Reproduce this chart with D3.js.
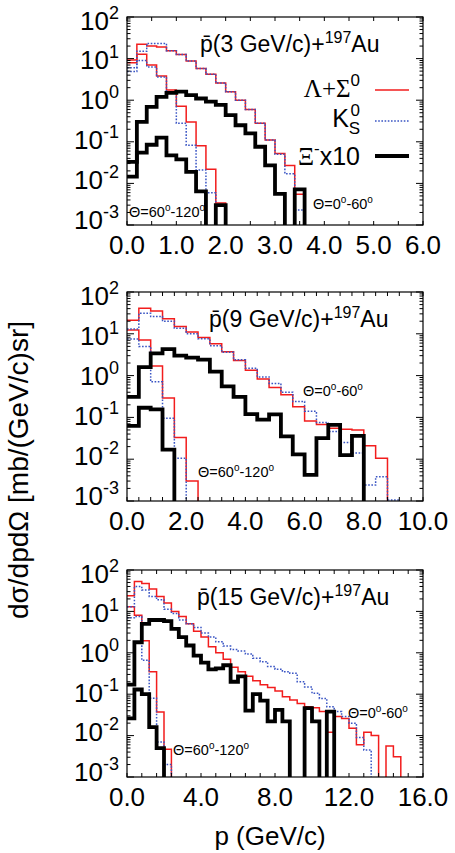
<!DOCTYPE html>
<html>
<head>
<meta charset="utf-8">
<script src="https://cdn.jsdelivr.net/npm/d3@7"></script>
<style>
  body { margin: 0; background: #fff; }
  svg { display: block; }
</style>
</head>
<body>
<script>
// Hyperon and kaon momentum spectra in p̄ + 197Au at 3, 9 and 15 GeV/c.
// Histograms start at p = 0; a value of 0 marks an empty bin.

const beamMomenta = ["3", "9", "15"];
const xMaxima = [6, 10, 16];
const binWidths = [0.2, 0.4, 0.4];
const xLabelSteps = [1, 2, 4];
const xMinorSteps = [0.5, 0.4, 0.8];
const yDomain = [1e-3, 1e2];

// --- 3 GeV/c ---
const lambdaFwd3 = [9.2, 22, 20, 19, 15.5, 12.6, 8.7, 5.8, 4.2, 2.6, 1.6, 1.0, 0.6, 0.28, 0.11, 0.052, 0.027, 0.0055];
const kaonFwd3   = [6.0, 15, 23, 23, 15.5, 12.6, 8.7, 5.8, 4.2, 2.6, 1.6, 1.0, 0.6, 0.28, 0.11, 0.05, 0.017, 0.0023];
const xiFwd3     = [0.033, 0.30, 0.69, 1.2, 1.5, 1.6, 1.33, 1.1, 0.92, 0.77, 0.44, 0.25, 0.16, 0.076, 0.027, 0.0056, 0, 0.0072];
const lambdaBwd3 = [8.0, 12.7, 7.0, 3.8, 1.76, 0.72, 0.3, 0.08, 0.022, 0.0034];
const kaonBwd3   = [4.9, 9, 6.3, 3.6, 1.6, 0.28, 0.083, 0.021, 0.006];
const xiBwd3     = [0.0145, 0.055, 0.085, 0.126, 0.047, 0.038, 0.019, 0.0064, 0, 0.003];

// --- 9 GeV/c ---
const lambdaFwd9 = [21, 41, 35, 23, 15, 11, 8.2, 5.8, 3.7, 2.3, 1.35, 0.83, 0.52, 0.35, 0.18, 0.082, 0.068, 0.055, 0.052, 0.05, 0.021, 0.0105];
const kaonFwd9   = [13, 31, 26, 20, 13.5, 10, 7.6, 5.2, 3.6, 2.4, 1.5, 0.93, 0.65, 0.40, 0.24, 0.14, 0.076, 0.046, 0.025, 0.014, 0.0024, 0.0038, 0.00105];
const xiFwd9     = [0.31, 1.6, 3.4, 4.3, 3.0, 2.7, 2.4, 1.25, 0.55, 0.31, 0.12, 0.088, 0.118, 0.035, 0.013, 0.0042, 0.032, 0.066, 0.0125, 0.036];
const lambdaBwd9 = [12.3, 7.1, 1.7, 0.29, 0.033, 0.003];
const kaonBwd9   = [7.5, 5, 0.71, 0.095, 0.0105];
const xiBwd9     = [0.063, 0.17, 0.155, 0.017];

// --- 15 GeV/c ---
const lambdaFwd15 = [24, 53, 47, 35, 23, 16, 10, 7.5, 5.0, 3.3, 2.4, 1.4, 1.0, 0.7, 0.45, 0.35, 0.27, 0.21, 0.17, 0.145, 0.12, 0.087, 0.072, 0.06, 0.05, 0.047, 0.038, 0.012, 0.029, 0.026, 0.015, 0.006, 0.012, 0.01, 0, 0.0056, 0.0031];
const kaonFwd15   = [13, 40, 33, 23, 19, 11.2, 8.9, 6.2, 5.0, 4.1, 3.0, 2.4, 1.85, 1.45, 1.2, 1.1, 0.93, 0.74, 0.61, 0.47, 0.40, 0.35, 0.32, 0.2, 0.15, 0.105, 0.079, 0.05, 0.038, 0.029, 0.02, 0.009, 0.0045];
const xiFwd15     = [0.17, 1.8, 5.0, 6.2, 6.2, 5.8, 3.8, 2.4, 1.5, 0.85, 0.58, 0.4, 0.42, 0.5, 0.2, 0.27, 0.04, 0.1, 0.07, 0.022, 0.042, 0.022, 0, 0, 0.046, 0.022, 0, 0.038];
const lambdaBwd15 = [13, 8.1, 1.95, 0.35, 0.037, 0.0047];
const kaonBwd15   = [7, 7.5, 0.66, 0.08, 0.007, 0.002];
const xiBwd15     = [0.026, 0.13, 0.1, 0.016, 0.005];

const lambdaFwd = [lambdaFwd3, lambdaFwd9, lambdaFwd15];
const kaonFwd = [kaonFwd3, kaonFwd9, kaonFwd15];
const xiFwd = [xiFwd3, xiFwd9, xiFwd15];
const lambdaBwd = [lambdaBwd3, lambdaBwd9, lambdaBwd15];
const kaonBwd = [kaonBwd3, kaonBwd9, kaonBwd15];
const xiBwd = [xiBwd3, xiBwd9, xiBwd15];

// ---------------- layout & styles ----------------
const W = 455, H = 853;
const plotLeft = 127, plotRight = 423;
const plotTops = [17, 292, 570];
const plotBottoms = [225, 501, 777];
const FLOOR = 1e-7;
const SANS = "'Liberation Sans', Arial, Helvetica, sans-serif";
const SERIF = "'Liberation Serif', 'Times New Roman', serif";
const RED = "#f21d1d", BLUE = "#3a55c4", BLACK = "#000";

const styles = {
  lambda: { stroke: RED, width: 1.5, dash: null },
  kaon:   { stroke: BLUE, width: 1.5, dash: "1.6,1.6" },
  xi:     { stroke: BLACK, width: 3.8, dash: null }
};

const svg = d3.select("body").append("svg")
  .attr("width", W).attr("height", H)
  .style("font-family", SANS);

function stepPoints(vals, w) {
  const pts = [];
  vals.forEach((v, k) => { pts.push([k * w, v]); pts.push([(k + 1) * w, v]); });
  pts.push([vals.length * w, 0]);
  return pts;
}

function thetaLabel(g, x, yb, a, b) {
  const t = g.append("text").attr("x", x).attr("y", yb)
    .attr("font-size", 14.5).attr("fill", "#000");
  t.append("tspan").text("Θ=" + a);
  t.append("tspan").attr("font-size", 10).attr("dy", -6).text("o");
  t.append("tspan").attr("dy", 6).text("-" + b);
  t.append("tspan").attr("font-size", 10).attr("dy", -6).text("o");
}

beamMomenta.forEach((beam, i) => {
  const top = plotTops[i], bot = plotBottoms[i];
  const x = d3.scaleLinear().domain([0, xMaxima[i]]).range([plotLeft, plotRight]);
  const y = d3.scaleLog().domain(yDomain).range([bot, top]);
  const yLab = d3.scaleLog().domain(yDomain).range([bot - 5, top + 3.5]);
  const g = svg.append("g");

  const clipId = "clip" + i;
  svg.append("clipPath").attr("id", clipId).append("rect")
    .attr("x", plotLeft).attr("y", top)
    .attr("width", plotRight - plotLeft).attr("height", bot - top);

  const line = d3.line()
    .x(d => x(d[0]))
    .y(d => y(Math.max(d[1], FLOOR)));

  const plot = g.append("g").attr("clip-path", `url(#${clipId})`);
  const series = [
    [lambdaFwd[i], "lambda"], [lambdaBwd[i], "lambda"],
    [kaonFwd[i], "kaon"], [kaonBwd[i], "kaon"],
    [xiFwd[i], "xi"], [xiBwd[i], "xi"]
  ];
  series.forEach(([vals, kind]) => {
    const st = styles[kind];
    plot.append("path")
      .attr("d", line(stepPoints(vals, binWidths[i])))
      .attr("fill", "none")
      .attr("stroke", st.stroke)
      .attr("stroke-width", st.width)
      .attr("stroke-dasharray", st.dash)
      .attr("stroke-linejoin", "miter");
  });

  // frame
  g.append("rect").attr("x", plotLeft).attr("y", top)
    .attr("width", plotRight - plotLeft).attr("height", bot - top)
    .attr("fill", "none").attr("stroke", "#000").attr("stroke-width", 1.2);

  // y ticks (log, both sides)
  const yTicks = y.ticks();
  yTicks.forEach(t => {
    const major = Math.abs(Math.log10(t) - Math.round(Math.log10(t))) < 1e-9;
    const len = major ? 7 : 3.5;
    const yy = y(t);
    g.append("line").attr("x1", plotLeft).attr("x2", plotLeft + len)
      .attr("y1", yy).attr("y2", yy).attr("stroke", "#000").attr("stroke-width", 1);
    g.append("line").attr("x1", plotRight).attr("x2", plotRight - len)
      .attr("y1", yy).attr("y2", yy).attr("stroke", "#000").attr("stroke-width", 1);
  });

  // y tick labels: 10^n
  d3.range(-3, 3).forEach(n => {
    const t = g.append("text")
      .attr("x", 119).attr("y", yLab(Math.pow(10, n)) + 9)
      .attr("text-anchor", "end").attr("font-size", 26).attr("fill", "#000");
    t.append("tspan").text("10");
    t.append("tspan").attr("font-size", 18).attr("dy", -11).text(n < 0 ? "-" + (-n) : String(n));
  });

  // x ticks (top and bottom)
  const nMinor = Math.round(xMaxima[i] / xMinorSteps[i]);
  d3.range(0, nMinor + 1).map(k => k * xMinorSteps[i]).forEach(v => {
    const xx = x(v);
    g.append("line").attr("x1", xx).attr("x2", xx).attr("y1", bot).attr("y2", bot - 4)
      .attr("stroke", "#000").attr("stroke-width", 1);
    g.append("line").attr("x1", xx).attr("x2", xx).attr("y1", top).attr("y2", top + 4)
      .attr("stroke", "#000").attr("stroke-width", 1);
  });

  // x tick labels
  const nLab = Math.round(xMaxima[i] / xLabelSteps[i]);
  d3.range(0, nLab + 1).map(k => k * xLabelSteps[i]).forEach(v => {
    g.append("text").attr("x", x(v)).attr("y", bot + 29)
      .attr("text-anchor", "middle").attr("font-size", 26).attr("fill", "#000")
      .text(d3.format(".1f")(v));
  });

  // reaction label
  const titleX = [200, 209, 197][i];
  const title = g.append("text").attr("x", titleX).attr("y", top + 35)
    .attr("font-size", 23).attr("fill", "#000");
  title.append("tspan").text("p\u0304(" + beam + " GeV/c)+");
  title.append("tspan").attr("font-size", 16).attr("dy", -9).text("197");
  title.append("tspan").attr("dy", 9).text("Au");
});

// angular-range labels
thetaLabel(svg, 129, 217, "60", "120");
thetaLabel(svg, 313, 209, "0", "60");
thetaLabel(svg, 303, 396, "0", "60");
thetaLabel(svg, 198, 477, "60", "120");
thetaLabel(svg, 348, 718, "0", "60");
thetaLabel(svg, 173, 755, "60", "120");

// legend (top panel)
const legX = 360, legLine = [375, 409];
const leg = svg.append("g").attr("fill", "#000");
{
  const t = leg.append("text").attr("x", legX).attr("y", 97).attr("text-anchor", "end").attr("font-size", 25);
  t.append("tspan").attr("font-family", SERIF).text("Λ+Σ");
  t.append("tspan").attr("font-size", 17).attr("dy", -11).text("0");
  leg.append("line").attr("x1", legLine[0]).attr("x2", legLine[1]).attr("y1", 90).attr("y2", 90)
    .attr("stroke", RED).attr("stroke-width", 1.5);
}
{
  leg.append("text").attr("x", legX - 11).attr("y", 127).attr("text-anchor", "end").attr("font-size", 25).text("K");
  leg.append("text").attr("x", legX).attr("y", 116).attr("text-anchor", "end").attr("font-size", 17).text("0");
  leg.append("text").attr("x", legX).attr("y", 134).attr("text-anchor", "end").attr("font-size", 17).text("S");
  leg.append("line").attr("x1", legLine[0]).attr("x2", legLine[1]).attr("y1", 121).attr("y2", 121)
    .attr("stroke", BLUE).attr("stroke-width", 1.5).attr("stroke-dasharray", "1.6,1.6");
}
{
  const t = leg.append("text").attr("x", legX).attr("y", 165).attr("text-anchor", "end").attr("font-size", 25);
  t.append("tspan").attr("font-family", SERIF).text("Ξ");
  t.append("tspan").attr("font-size", 17).attr("dy", -11).text("-");
  t.append("tspan").attr("dy", 11).text("x10");
  leg.append("line").attr("x1", legLine[0]).attr("x2", legLine[1]).attr("y1", 156).attr("y2", 156)
    .attr("stroke", BLACK).attr("stroke-width", 3.8);
}

// axis titles
svg.append("text")
  .attr("transform", "translate(28,470) rotate(-90)")
  .attr("text-anchor", "middle").attr("font-size", 28).attr("fill", "#000")
  .text("dσ/dpdΩ [mb/(GeV/c)sr]");

svg.append("text").attr("x", 270).attr("y", 845)
  .attr("text-anchor", "middle").attr("font-size", 26).attr("fill", "#000")
  .text("p (GeV/c)");
</script>
</body>
</html>
